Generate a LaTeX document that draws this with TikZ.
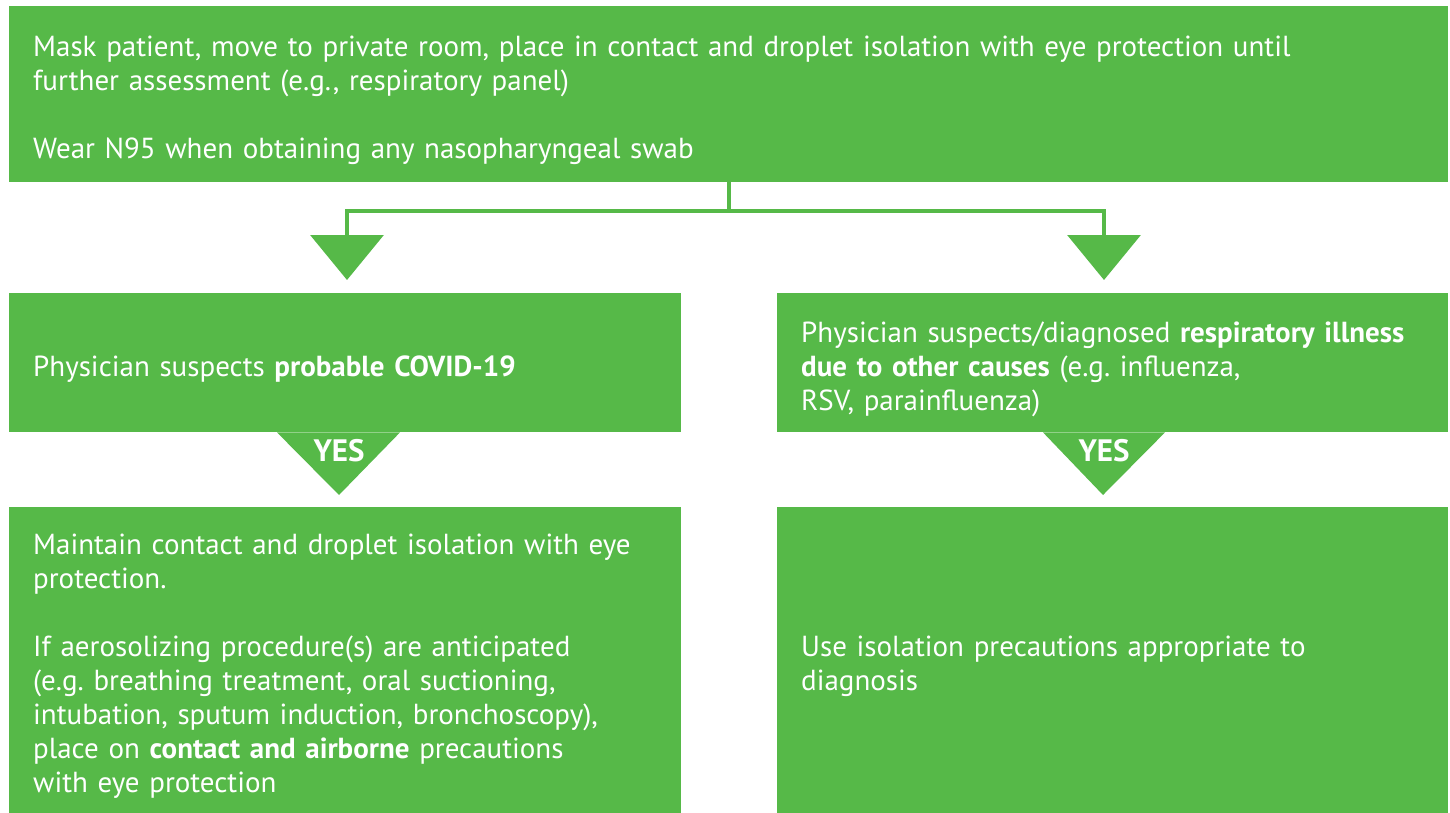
\documentclass[tikz,border=0pt]{standalone}
\usepackage{fontspec}
\setmainfont{PT Sans}
\usetikzlibrary{arrows.meta}
\definecolor{gr}{RGB}{86,185,72}
\begin{document}
\frenchspacing
\begin{tikzpicture}[x=1pt,y=-1pt,
  box/.style={fill=gr, text=white, anchor=north west, inner xsep=24pt, inner ysep=0pt,
    align=left, font=\fontsize{29}{34}\selectfont\frenchspacing, text height=33pt},
  conn/.style={draw=gr, line width=3.5pt},
  head/.style={-{Triangle[width=73pt,length=45pt]}},
  yes/.style={text=white, font=\fontsize{31}{34}\selectfont\bfseries, inner sep=0pt}]
\useasboundingbox (0,0) rectangle (1450,813);
\node[box, minimum width=1439pt, minimum height=176pt, text width=1391pt] (top) at (9,6)
 {Mask patient, move to private room, place in contact and droplet isolation with eye protection until\\
  further assessment (e.g., respiratory panel)\\[34pt]
  Wear N95 when obtaining any nasopharyngeal swab};
\node[box, minimum width=672pt, minimum height=139pt, text width=624pt] (q1) at (9,293)
 {Physician suspects \textbf{probable COVID-19}};
\node[box, minimum width=671pt, minimum height=139pt, text width=623pt] (q2) at (777,293)
 {Physician suspects/diagnosed \textbf{respiratory illness}\\
  \textbf{due to other causes} (e.g. influenza,\\
  RSV, parainfluenza)};
\node[box, minimum width=672pt, minimum height=306pt, text width=624pt] (a1) at (9,507)
 {Maintain contact and droplet isolation with eye\\
  protection.\\[34pt]
  If aerosolizing procedure(s) are anticipated\\
  (e.g. breathing treatment, oral suctioning,\\
  intubation, sputum induction, bronchoscopy),\\
  place on \textbf{contact and airborne} precautions\\
  with eye protection};
\node[box, minimum width=671pt, minimum height=306pt, text width=623pt] (a2) at (777,507)
 {Use isolation precautions appropriate to\\
  diagnosis};
% connectors from top box
\coordinate (split) at (729,211);
\coordinate (tipL) at (347,280);
\coordinate (tipR) at (1104,280);
\draw[conn] (top.south -| split) -- (split);
\draw[conn, head] (split) -| (tipL);
\draw[conn, head] (split) -| (tipR);
% YES triangles
\fill[gr] (q1.south -| 277,0) -- (q1.south -| 400,0) -- (339,495) -- cycle;
\fill[gr] (q2.south -| 1043,0) -- (q2.south -| 1165,0) -- (1103,495) -- cycle;
\node[yes] (yesL) at (339,451) {YES};
\node[yes] (yesR) at (1104,451) {YES};
\end{tikzpicture}
\end{document}
